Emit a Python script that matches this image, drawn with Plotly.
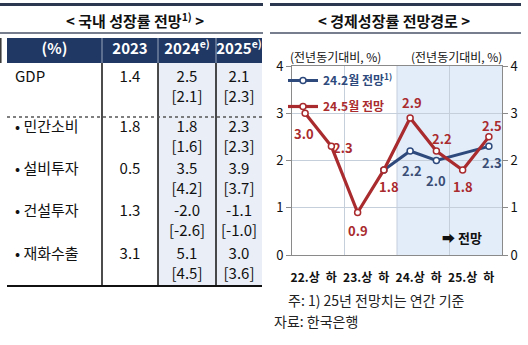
import plotly.graph_objects as go

W, H = 528, 345
FONT = "Noto Sans CJK KR"

# ---------------- data: table ----------------
TABLE_TITLE = "< 국내 성장률 전망<sup>1)</sup> >"
HEADERS = ["(%)", "2023", "2024<sup>e)</sup>", "2025<sup>e)</sup>"]
ROW_LABELS = ["GDP", "• 민간소비", "• 설비투자", "• 건설투자", "• 재화수출"]
VAL_2023 = [1.4, 1.8, 0.5, 1.3, 3.1]
VAL_2024 = [2.5, 1.8, 3.5, -2.0, 5.1]
PREV_2024 = [2.1, 1.6, 4.2, -2.6, 4.5]
VAL_2025 = [2.1, 2.3, 3.9, -1.1, 3.0]
PREV_2025 = [2.3, 2.3, 3.7, -1.0, 3.6]

# ---------------- data: chart ----------------
CHART_TITLE = "< 경제성장률 전망경로 >"
PERIODS = ["22.상", "하", "23.상", "하", "24.상", "하", "25.상", "하"]
FEB_FORECAST = [None, None, None, 1.8, 2.2, 2.0, None, 2.3]
MAY_FORECAST = [3.0, 2.3, 0.9, 1.8, 2.9, 2.2, 1.8, 2.5]
SERIES_NAMES = ["24.2월 전망<sup>1)</sup>", "24.5월 전망"]
Y_TICKS = [0, 1, 2, 3, 4]
FORECAST_START = 4
UNIT = "(전년동기대비, %)"
FORECAST_LABEL = "➡ 전망"
NOTE = "주: 1) 25년 전망치는 연간 기준"
SOURCE = "자료: 한국은행"

# ---------------- styles / geometry ----------------
NAVY = "#1F3864"
LIGHT = "#E9EEF7"
BLUE = "#2E4A7D"
BLUE_TXT = "#3A4E75"
RED = "#A92B2E"
GRID = "#C5CEDB"
FRAME = "#8A8A8A"
SHADE = "#E3EDFA"

COL_EDGES = [7, 102, 158, 216, 262]
HEAD_TOP, HEAD_BOT = 38, 63
ROW_EDGES = [63, 117, 159.3, 201.6, 243.9, 286]
MAIN_OFF = [15, 11, 11, 11, 11]
BRACKET_GAP = 20

MAY_SHIFT = [(-1, -20), (12, -1), (0, -18), (5, -17), (2, 15), (6, 13), (0, -17), (3, 11)]
FEB_SHIFT = [None, None, None, None, (2, -19), (0, -20), None, (3, -16)]


def px(x):
    return x / W


def py(y):
    return 1 - y / H


fig = go.Figure()

# ================= table (drawn on pixel-unit axes x2/y2) =================
centers = [(COL_EDGES[i] + COL_EDGES[i + 1]) / 2 for i in range(4)]
mains = [ROW_EDGES[i] + MAIN_OFF[i] for i in range(len(ROW_LABELS))]
brackets = [m + BRACKET_GAP for m in mains]

shapes = []
shapes.append(dict(type="rect", xref="x2", yref="y2", x0=COL_EDGES[2], x1=COL_EDGES[4],
                   y0=HEAD_BOT, y1=ROW_EDGES[-1], fillcolor=LIGHT, line_width=0, layer="below"))
shapes.append(dict(type="rect", xref="x2", yref="y2", x0=COL_EDGES[0], x1=COL_EDGES[4],
                   y0=HEAD_TOP, y1=HEAD_BOT, fillcolor=NAVY, line_width=0, layer="below"))
for e in COL_EDGES[1:4]:
    shapes.append(dict(type="line", xref="x2", yref="y2", x0=e, x1=e, y0=HEAD_TOP, y1=HEAD_BOT,
                       line=dict(color="#9AA6BE", width=1)))
    shapes.append(dict(type="line", xref="x2", yref="y2", x0=e, x1=e, y0=HEAD_BOT, y1=ROW_EDGES[-1],
                       line=dict(color="#111111", width=1.5)))
shapes.append(dict(type="line", xref="x2", yref="y2", x0=COL_EDGES[0], x1=COL_EDGES[4],
                   y0=ROW_EDGES[1], y1=ROW_EDGES[1], line=dict(color="#555555", width=1.3, dash="dot")))
shapes.append(dict(type="line", xref="x2", yref="y2", x0=COL_EDGES[0], x1=COL_EDGES[4],
                   y0=ROW_EDGES[-1], y1=ROW_EDGES[-1], line=dict(color="#111111", width=2)))
shapes.append(dict(type="line", xref="x2", yref="y2", x0=0.8, x1=0.8, y0=HEAD_TOP, y1=HEAD_BOT,
                   line=dict(color="#333333", width=1.5)))

for (a, b) in [(0, 263), (270, 521)]:
    shapes.append(dict(type="rect", xref="paper", yref="paper", x0=px(a), x1=px(b),
                       y0=py(6), y1=py(3), fillcolor="#2B3850", line_width=0))
    shapes.append(dict(type="line", xref="paper", yref="paper", x0=px(a), x1=px(b),
                       y0=py(33), y1=py(33), line=dict(color="#4A5568", width=1.5)))

tfont = dict(family=FONT, size=15, color="#111111")
fig.add_trace(go.Scatter(x=[centers[i] for i in range(4)], y=[(HEAD_TOP + HEAD_BOT) / 2] * 4,
                         text=[f"<b>{h}</b>" for h in HEADERS], mode="text", xaxis="x2", yaxis="y2",
                         textfont=dict(family=FONT, size=15, color="white"), hoverinfo="skip",
                         showlegend=False, cliponaxis=False))
fig.add_trace(go.Scatter(x=[COL_EDGES[0] + 8] * len(ROW_LABELS), y=mains, text=ROW_LABELS,
                         mode="text", textposition="middle right", xaxis="x2", yaxis="y2",
                         textfont=tfont, hoverinfo="skip", showlegend=False, cliponaxis=False))
for col, vals in [(1, VAL_2023), (2, VAL_2024), (3, VAL_2025)]:
    fig.add_trace(go.Scatter(x=[centers[col]] * len(vals), y=mains, text=[f"{v:.1f}" for v in vals],
                             mode="text", xaxis="x2", yaxis="y2", textfont=tfont,
                             hoverinfo="skip", showlegend=False, cliponaxis=False))
for col, vals in [(2, PREV_2024), (3, PREV_2025)]:
    fig.add_trace(go.Scatter(x=[centers[col]] * len(vals), y=brackets, text=[f"[{v:.1f}]" for v in vals],
                             mode="text", xaxis="x2", yaxis="y2", textfont=tfont,
                             hoverinfo="skip", showlegend=False, cliponaxis=False))

# ================= line chart =================
xs = list(range(len(PERIODS)))
shapes.append(dict(type="rect", xref="x", yref="y", x0=FORECAST_START - 0.5, x1=len(PERIODS) - 0.5,
                   y0=Y_TICKS[0], y1=Y_TICKS[-1], fillcolor=SHADE, line_width=0, layer="below"))
for b in [1.5, 3.5, 5.5]:
    shapes.append(dict(type="line", xref="x", yref="y", x0=b, x1=b, y0=Y_TICKS[0], y1=Y_TICKS[-1],
                       line=dict(color=GRID, width=1), layer="below"))

fig.add_trace(go.Scatter(x=xs, y=FEB_FORECAST, mode="lines+markers", connectgaps=True,
                         name=f"<span style='color:{BLUE}'><b>{SERIES_NAMES[0]}</b></span>",
                         legendgroup="feb",
                         line=dict(color=BLUE, width=3),
                         marker=dict(symbol="circle", size=6, color="white", line=dict(color=BLUE, width=1.5)),
                         hoverinfo="skip", cliponaxis=False))
fig.add_trace(go.Scatter(x=xs, y=MAY_FORECAST, mode="lines+markers",
                         name=f"<span style='color:{RED}'><b>{SERIES_NAMES[1]}</b></span>",
                         legendgroup="may",
                         line=dict(color=RED, width=3.2),
                         marker=dict(symbol="circle", size=6, color="white", line=dict(color=RED, width=1.5)),
                         hoverinfo="skip", cliponaxis=False))
fig.add_trace(go.Scatter(x=xs, y=MAY_FORECAST, yaxis="y3", mode="lines", opacity=0,
                         showlegend=False, hoverinfo="skip"))

annotations = []
for i, v in enumerate(MAY_FORECAST):
    dx, dy = MAY_SHIFT[i]
    annotations.append(dict(x=i, y=v, xref="x", yref="y", text=f"<b>{v:.1f}</b>", showarrow=False,
                            xanchor="center", yanchor="middle",
                            xshift=dx, yshift=dy, font=dict(family=FONT, size=13, color=RED)))
for i, v in enumerate(FEB_FORECAST):
    if v is None or FEB_SHIFT[i] is None:
        continue
    dx, dy = FEB_SHIFT[i]
    annotations.append(dict(x=i, y=v, xref="x", yref="y", text=f"<b>{v:.1f}</b>", showarrow=False,
                            xanchor="center", yanchor="middle",
                            xshift=dx, yshift=dy, font=dict(family=FONT, size=13, color=BLUE_TXT)))


def label(x, y, text, size, anchor="center", color="#111111"):
    return dict(x=px(x), y=py(y), xref="paper", yref="paper", text=text, showarrow=False,
                xanchor=anchor, yanchor="middle", font=dict(family=FONT, size=size, color=color))


annotations += [
    label(135, 20, f"<b>{TABLE_TITLE}</b>", 15),
    label(394, 20, f"<b>{CHART_TITLE}</b>", 15),
    label(335, 57, UNIT, 12),
    label(456, 57, UNIT, 12),
    label(462, 237, f"<b>{FORECAST_LABEL}</b>", 13),
    label(286, 300, NOTE, 14, "left", "#222222"),
    label(272, 321, SOURCE, 14, "left", "#222222"),
]

plot_x = [px(292), px(502)]
plot_y = [py(255), py(66)]
axis_common = dict(range=[Y_TICKS[0], Y_TICKS[-1]], tickvals=Y_TICKS, showgrid=True, gridcolor=GRID,
                   gridwidth=1, zeroline=False, showline=True, linecolor=FRAME, linewidth=1,
                   ticks="outside", ticklen=5, tickcolor=FRAME, automargin=False,
                   tickfont=dict(family=FONT, size=13, color="#111111"), tickprefix="<b>", ticksuffix="</b>")

fig.update_layout(
    width=W, height=H, margin=dict(l=0, r=0, t=0, b=0, autoexpand=False),
    paper_bgcolor="white", plot_bgcolor="rgba(0,0,0,0)",
    font=dict(family=FONT),
    xaxis=dict(domain=plot_x, range=[-0.5, len(PERIODS) - 0.5], tickvals=xs,
               ticktext=[f"<b>{p}</b>" for p in PERIODS], showgrid=False, zeroline=False,
               showline=True, linecolor=FRAME, linewidth=1, mirror=True, ticks="", automargin=False,
               ticklabelstandoff=12, tickfont=dict(family=FONT, size=12, color="#111111"), anchor="y"),
    yaxis=dict(domain=plot_y, anchor="x", **axis_common),
    yaxis3=dict(overlaying="y", side="right", anchor="x", matches="y", **axis_common),
    xaxis2=dict(domain=[0, px(264)], range=[0, 264], visible=False, anchor="y2", fixedrange=True,
                automargin=False),
    yaxis2=dict(domain=[0, 1], range=[H, 0], visible=False, anchor="x2", fixedrange=True,
                automargin=False),
    legend=dict(x=px(283), y=py(66), xanchor="left", yanchor="top", bgcolor="rgba(0,0,0,0)",
                font=dict(family=FONT, size=12), itemwidth=30, tracegroupgap=7),
    shapes=shapes, annotations=annotations,
)

fig.write_html("out.html")
